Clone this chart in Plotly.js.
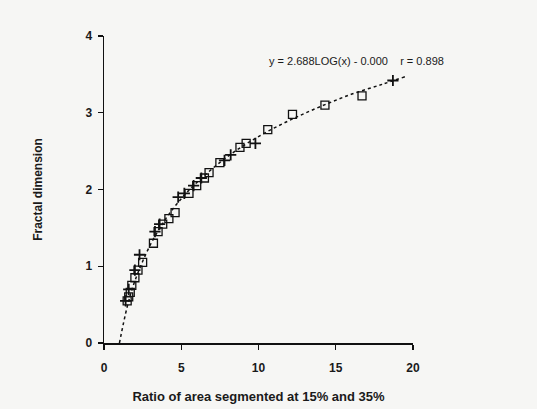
<!DOCTYPE html>
<html><head><meta charset="utf-8">
<script src="https://cdn.plot.ly/plotly-3.0.1.min.js"></script>
<style>html,body{margin:0;padding:0;background:#f6f6f4;}#chart{width:537px;height:409px;}</style>
</head><body><div id="chart"></div>
<script>
const squareX = [1.5,1.6,1.7,1.8,2.0,2.2,2.5,3.2,3.5,3.8,4.2,4.6,5.5,6.0,6.5,6.8,7.5,8.8,9.2,10.6,12.2,14.3,16.7];
const squareY = [0.55,0.6,0.66,0.75,0.85,0.95,1.05,1.3,1.45,1.55,1.62,1.7,1.95,2.05,2.15,2.22,2.35,2.55,2.6,2.78,2.98,3.1,3.22];
const crossX = [1.4,1.6,2.0,2.3,3.3,3.6,4.8,5.2,5.8,6.3,7.8,8.2,9.8,18.7];
const crossY = [0.55,0.7,0.95,1.15,1.45,1.55,1.9,1.95,2.05,2.15,2.38,2.45,2.6,3.42];
const fitX = [1,1.5,2,3,4,5,6,8,10,12,14,16,18,19.5];
const fitY = [0,0.47,0.81,1.28,1.62,1.88,2.09,2.43,2.69,2.9,3.08,3.24,3.37,3.47];
const xTicks = [0,5,10,15,20];
const yTicks = [0,1,2,3,4];
const fitLabel = "y = 2.688LOG(x) - 0.000    r = 0.898";

const fam = "Liberation Sans, Arial, sans-serif";
const col = "#1a1a1a";
Plotly.newPlot("chart", [
  {x:fitX, y:fitY, mode:"lines", line:{color:"#111", width:1.5, dash:"3px,3px", shape:"spline"}, hoverinfo:"skip"},
  {x:squareX, y:squareY, mode:"markers", marker:{symbol:"square-open", size:8, color:"#111", line:{width:1.3}}},
  {x:crossX, y:crossY, mode:"markers", marker:{symbol:"cross-thin-open", size:8, color:"#111", line:{width:1.8, color:"#111"}}}
], {
  width:537, height:409, showlegend:false,
  paper_bgcolor:"#f6f6f4", plot_bgcolor:"#f6f6f4",
  margin:{l:104, r:124, t:36, b:66},
  font:{family:fam, color:col},
  xaxis:{range:[0,20], tickvals:xTicks, ticks:"outside", ticklen:5, tickwidth:1.2, tickcolor:"#111",
    showline:true, linecolor:"#111", linewidth:1.5, showgrid:false, zeroline:false, ticklabelstandoff:8,
    tickfont:{size:12, family:fam, color:col, weight:"bold"},
    title:{text:"Ratio of area segmented at 15% and 35%", font:{size:13, family:fam, color:col, weight:"bold"}, standoff:18}},
  yaxis:{range:[0,4], tickvals:yTicks, ticks:"outside", ticklen:5, tickwidth:1.2, tickcolor:"#111",
    showline:true, linecolor:"#111", linewidth:1.5, showgrid:false, zeroline:false, ticklabelstandoff:3,
    tickfont:{size:12, family:fam, color:col, weight:"bold"},
    title:{text:"Fractal dimension", font:{size:12, family:fam, color:col, weight:"bold"}, standoff:40}},
  annotations:[{text:fitLabel, x:10.55, y:3.68, xref:"x", yref:"y", xanchor:"left", yanchor:"middle", showarrow:false,
    font:{size:11, family:fam, color:col}}]
}, {displayModeBar:false, staticPlot:true});
</script></body></html>
